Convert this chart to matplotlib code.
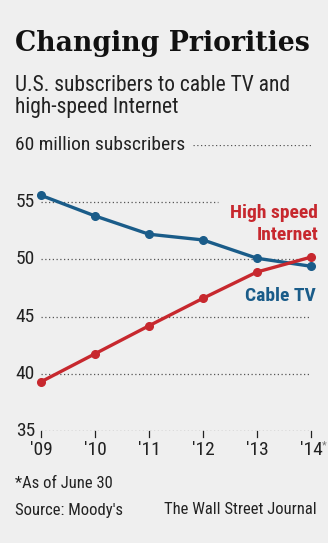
import matplotlib.pyplot as plt
from matplotlib import font_manager

years = [2009, 2010, 2011, 2012, 2013, 2014]
year_labels = ["'09", "'10", "'11", "'12", "'13", "'14"]
cable_tv = [55.6, 53.8, 52.2, 51.7, 50.1, 49.4]
internet = [39.3, 41.75, 44.2, 46.6, 48.9, 50.2]
y_ticks = [35, 40, 45, 50, 55, 60]

BG = "#efefef"
BLUE = "#1a5c89"
RED = "#c7282e"
INK = "#222222"

names = {f.name for f in font_manager.fontManager.ttflist}


def pick(cands, default):
    for c in cands:
        if c in names:
            return c
    return default


SANS = pick(["Roboto Condensed", "IBM Plex Sans Condensed",
             "Liberation Sans Narrow"], "DejaVu Sans")
plt.rcParams["font.family"] = [SANS, "DejaVu Sans"]

W, H = 328, 543
fig = plt.figure(figsize=(W / 100, H / 100), dpi=100, facecolor=BG)
ax = fig.add_axes([41 / W, 1 - 431 / H, 270 / W, (431 - 145) / H])
ax.set_facecolor(BG)
ax.set_xlim(2009, 2014)
ax.set_ylim(35, 60)
for s in ax.spines.values():
    s.set_visible(False)
ax.set_xticks([])
ax.set_yticks([])

# dotted gridlines; some stop short to leave room for labels
grid_kw = dict(color="#555555", lw=0.9, ls=(0, (1, 2)), zorder=1)
for v in y_ticks:
    x0, x1 = 2009, 2014
    if v == 60:
        x0 = 2009 + (193 - 41) / 270 * 5
    if v == 55:
        x1 = 2009 + (218 - 41) / 270 * 5
    ax.plot([x0, x1], [v, v], **grid_kw)
    if v != 60:
        ax.text(2009 - 0.11, v, str(v), ha="right", va="center",
                fontsize=14, color=INK)
ax.text(2009 - 0.48, 60, "60 million subscribers", ha="left", va="center",
        fontsize=14, color=INK)

# x ticks hang below the 35 line
for yr, lab in zip(years, year_labels):
    ax.plot([yr, yr], [34.45, 35], color=INK, lw=0.9, clip_on=False)
    ax.text(yr, 33.3, lab, ha="center", va="center", fontsize=14, color=INK)
ax.text(2014 + 0.2, 33.7, "*", ha="left", va="center", fontsize=8, color="#777777")

ax.plot(years, cable_tv, color=BLUE, lw=2.4, marker="o", ms=5.5,
        clip_on=False, zorder=3)
ax.plot(years, internet, color=RED, lw=2.4, marker="o", ms=5.5,
        clip_on=False, zorder=4)

ax.text(2014 + 0.13, 53.1, "High speed\nInternet", ha="right", va="center",
        fontsize=14, fontweight="bold", color=RED, linespacing=1.25)
ax.text(2014 + 0.09, 46.8, "Cable TV", ha="right", va="center",
        fontsize=14, fontweight="bold", color=BLUE)

fig.text(15 / W, 1 - 51 / H, "Changing Priorities", family="DejaVu Serif",
         fontweight="bold", fontsize=19.3, color="#111111", va="baseline", ha="left")
fig.text(15 / W, 1 - 91 / H, "U.S. subscribers to cable TV and",
         fontsize=15.5, color=INK, va="baseline", ha="left")
fig.text(15 / W, 1 - 113 / H, "high-speed Internet",
         fontsize=15.5, color=INK, va="baseline", ha="left")
fig.text(15 / W, 1 - 484 / H, "*As of June 30", fontsize=12, color=INK,
         va="center", ha="left")
fig.text(15 / W, 1 - 510 / H, "Source: Moody's", fontsize=12, color=INK,
         va="center", ha="left")
fig.text(317 / W, 1 - 510 / H, "The Wall Street Journal", fontsize=12,
         color=INK, va="center", ha="right")

fig.savefig("out.png", dpi=100, facecolor=BG)
